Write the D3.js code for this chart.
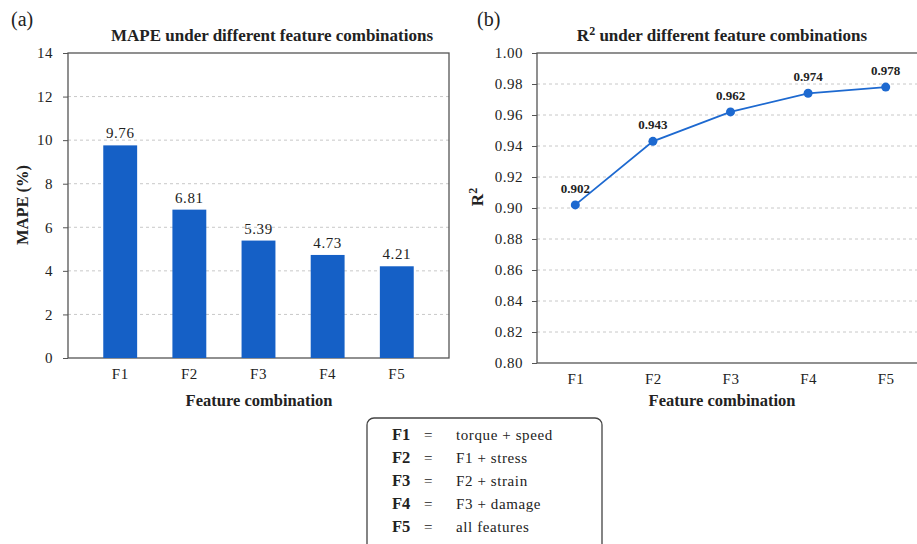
<!DOCTYPE html>
<html>
<head>
<meta charset="utf-8">
<script src="https://cdn.jsdelivr.net/npm/d3@7"></script>
<style>
  body { margin: 0; background: #fff; }
</style>
</head>
<body>
<svg id="chart"></svg>
<script>
'use strict'

const width = 917,
      height = 544

const categories = ["F1", "F2", "F3", "F4", "F5"]
const mapeValues = [9.76, 6.81, 5.39, 4.73, 4.21]
const r2Values = [0.902, 0.943, 0.962, 0.974, 0.978]
const mapeTicks = [0, 2, 4, 6, 8, 10, 12, 14]
const r2Ticks = [0.80, 0.82, 0.84, 0.86, 0.88, 0.90, 0.92, 0.94, 0.96, 0.98, 1.00]
const legendKeys = ["F1", "F2", "F3", "F4", "F5"]
const legendTexts = ["torque + speed", "F1 + stress", "F2 + strain", "F3 + damage", "all features"]

const barColor = "#1560c6",
      lineColor = "#1d69d0",
      frameColor = "#555",
      gridColor = "#c8c8c8",
      textColor = "#222",
      serif = "Liberation Serif",
      // regular serif text keeps its serifs only up to 15px in this renderer
      regSize = 15

const svg = d3.select("#chart")
  .attr("width", width)
  .attr("height", height)
  .attr("font-family", serif)

// small helper so every label gets the serif face explicitly
function label(g, x, y, str, size, bold) {
  return g.append("text")
    .attr("x", x).attr("y", y)
    .attr("font-family", serif)
    .attr("font-size", size)
    .attr("font-weight", bold ? "bold" : "normal")
    .attr("fill", textColor)
    .text(str)
}

// draws the frame, grid and axes for one panel
function panelFrame(g, x, y, ticks, fmt, pad) {
  const [x0, x1] = x.range()
  const [y0, y1] = y.range()
  // dashed grid (skip first and last tick)
  g.append("g").selectAll("line")
    .data(ticks.slice(1, -1))
    .enter().append("line")
      .attr("x1", x0).attr("x2", x1)
      .attr("y1", d => y(d)).attr("y2", d => y(d))
      .attr("stroke", gridColor)
      .attr("stroke-dasharray", "3,3")
  // box
  g.append("rect")
    .attr("x", x0).attr("y", y1)
    .attr("width", x1 - x0).attr("height", y0 - y1)
    .attr("fill", "none")
    .attr("stroke", frameColor)
    .attr("stroke-width", 1.3)
  const yAxis = g.append("g")
    .attr("transform", `translate(${x0},0)`)
    .call(d3.axisLeft(y).tickValues(ticks).tickFormat(fmt).tickSize(5).tickPadding(pad))
  yAxis.attr("font-family", serif)
  yAxis.select(".domain").remove()
  yAxis.selectAll(".tick line").attr("stroke", frameColor)
  yAxis.selectAll(".tick text")
    .attr("font-family", serif).attr("font-size", regSize)
    .attr("letter-spacing", 0.5).attr("fill", textColor)
  const xAxis = g.append("g")
    .attr("transform", `translate(0,${y0})`)
    .call(d3.axisBottom(x).tickSize(0).tickPadding(10))
  xAxis.attr("font-family", serif)
  xAxis.select(".domain").remove()
  xAxis.selectAll(".tick text")
    .attr("font-family", serif).attr("font-size", regSize)
    .attr("letter-spacing", 0.5).attr("fill", textColor)
}

// ---- panel (a): MAPE bars ----
const ga = svg.append("g")
const xa = d3.scaleBand().domain(categories).range([68, 449]).padding(0.51)
const ya = d3.scaleLinear().domain([0, 14]).range([358, 53])
panelFrame(ga, xa, ya, mapeTicks, d3.format("d"), 10)

ga.append("g").selectAll("rect")
  .data(mapeValues)
  .enter().append("rect")
    .attr("x", (d, i) => xa(categories[i]))
    .attr("width", xa.bandwidth())
    .attr("y", d => ya(d))
    .attr("height", d => ya(0) - ya(d))
    .attr("fill", barColor)

mapeValues.forEach((d, i) => {
  label(ga, xa(categories[i]) + xa.bandwidth() / 2, ya(d) - 7, d3.format(".2f")(d), regSize)
    .attr("text-anchor", "middle")
    .attr("letter-spacing", 0.6)
})

label(ga, 11, 26, "(a)", 20)
label(ga, 272, 41, "MAPE under different feature combinations", 17, true).attr("text-anchor", "middle")
label(ga, 259, 406, "Feature combination", 16.5, true).attr("text-anchor", "middle")
label(ga, 0, 0, "MAPE (%)", 16.5, true)
  .attr("transform", "translate(28,205) rotate(-90)")
  .attr("text-anchor", "middle")

// ---- panel (b): R2 line ----
const gb = svg.append("g")
const xb = d3.scaleBand().domain(categories).range([537, 925]).padding(0)
const yb = d3.scaleLinear().domain([0.80, 1.00]).range([363, 53])
panelFrame(gb, xb, yb, r2Ticks, d3.format(".2f"), 9)

const cx = (d, i) => xb(categories[i]) + xb.bandwidth() / 2 - 0.5

gb.append("path")
  .datum(r2Values)
  .attr("fill", "none")
  .attr("stroke", lineColor)
  .attr("stroke-width", 1.8)
  .attr("d", d3.line().x(cx).y(d => yb(d)))

gb.append("g").selectAll("circle")
  .data(r2Values)
  .enter().append("circle")
    .attr("cx", cx)
    .attr("cy", d => yb(d))
    .attr("r", 4.5)
    .attr("fill", lineColor)

r2Values.forEach((d, i) => {
  label(gb, cx(d, i), yb(d) - 12, d3.format(".3f")(d), 13, true)
    .attr("text-anchor", "middle")
})

label(gb, 477, 26, "(b)", 20)
const tb = label(gb, 722, 41, "", 17, true).attr("text-anchor", "middle")
tb.append("tspan").text("R")
tb.append("tspan").attr("dy", -6).attr("font-size", 12).text("2")
tb.append("tspan").attr("dy", 6).text(" under different feature combinations")
label(gb, 722, 406, "Feature combination", 16.5, true).attr("text-anchor", "middle")
const yl = label(gb, 0, 0, "", 17, true)
  .attr("transform", "translate(483,197) rotate(-90)")
  .attr("text-anchor", "middle")
yl.append("tspan").text("R")
yl.append("tspan").attr("dy", -6).attr("font-size", 12).text("2")

// ---- legend box ----
const lg = svg.append("g")
lg.append("rect")
  .attr("x", 367).attr("y", 418)
  .attr("width", 235).attr("height", 140)
  .attr("rx", 7)
  .attr("fill", "#fff")
  .attr("stroke", "#444")
  .attr("stroke-width", 1.3)

const rowY = d3.scalePoint().domain(legendKeys).range([440, 532])
legendKeys.forEach((k, i) => {
  label(lg, 392, rowY(k), k, 16.5, true)
  label(lg, 424, rowY(k), "=", regSize)
  label(lg, 456, rowY(k), legendTexts[i], regSize).attr("letter-spacing", 0.6)
})
</script>
</body>
</html>
